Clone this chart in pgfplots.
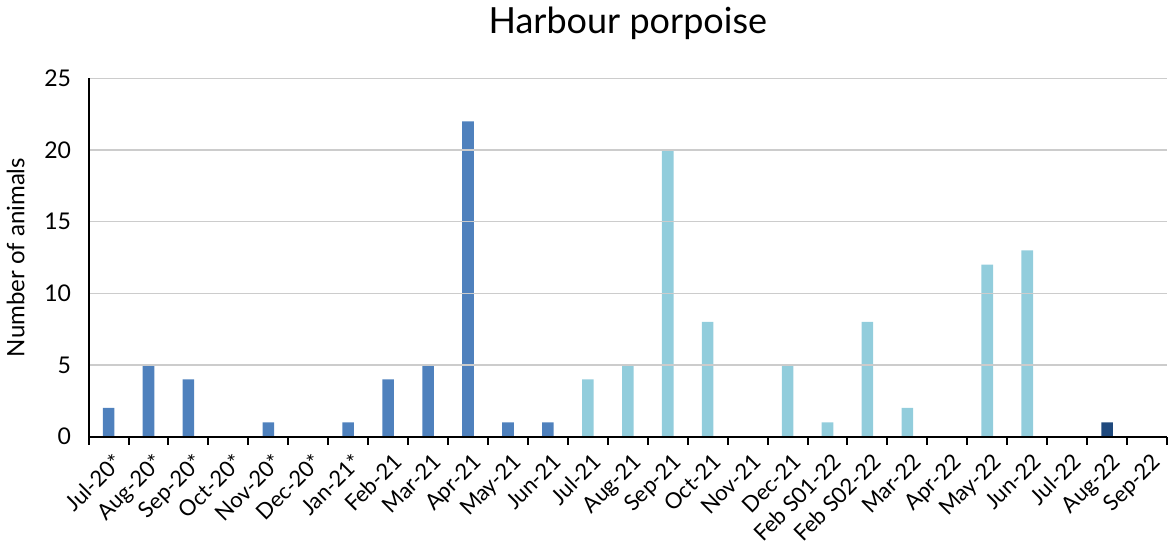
\documentclass[border=0pt]{standalone}
\usepackage{pgfplots}
\pgfplotsset{compat=1.18}
\usepackage{fontspec}
\setmainfont{Lato}
\definecolor{midblue}{HTML}{4F81BD}
\definecolor{lightblue}{HTML}{92CDDC}
\definecolor{navyblue}{HTML}{1F497D}
\begin{document}
\begin{tikzpicture}
\begin{axis}[
    width=539pt, height=179pt, scale only axis,
    xmin=-0.5, xmax=26.5, ymin=0, ymax=25,
    axis x line=bottom, axis y line=left,
    axis line style={line width=1pt, -},
    axis on top,
    ybar, bar width=0.29,
    xtick={0,...,26},
    xticklabels={Jul-20*, Aug-20*, Sep-20*, Oct-20*, Nov-20*, Dec-20*, Jan-21*,
        Feb-21, Mar-21, Apr-21, May-21, Jun-21, Jul-21, Aug-21, Sep-21, Oct-21,
        Nov-21, Dec-21, Feb S01-22, Feb S02-22, Mar-22, Apr-22, May-22, Jun-22,
        Jul-22, Aug-22, Sep-22},
    major x tick style={draw=none},
    minor xtick={-0.5,0.5,...,26.5},
    minor x tick style={black, line width=1pt},
    tick align=outside, minor tick length=4pt,
    ytick={0,5,...,25}, major y tick style={draw=none},
    ymajorgrids, grid style={black!20, line width=0.7pt},
    xticklabel style={rotate=45, anchor=north east, inner sep=1pt, yshift=-2.5pt,
        font=\fontsize{11}{12}\selectfont},
    yticklabel style={font=\fontsize{11.5}{12}\selectfont, xshift=-1pt},
    /pgf/number format/assume math mode=true,
    ylabel={Number of animals},
    ylabel shift=3pt,
    ylabel style={font=\fontsize{12}{13}\selectfont},
    title={Harbour porpoise},
    title style={font=\fontsize{18}{20}\selectfont, yshift=10pt},
]
\addplot[fill=midblue, draw=none, bar shift=0pt] coordinates {
    (0,2) (1,5) (2,4) (3,0) (4,1) (5,0) (6,1) (7,4) (8,5) (9,22) (10,1) (11,1)
};
\addplot[fill=lightblue, draw=none, bar shift=0pt] coordinates {
    (12,4) (13,5) (14,20) (15,8) (16,0) (17,5) (18,1) (19,8) (20,2) (21,0)
    (22,12) (23,13) (24,0)
};
\addplot[fill=navyblue, draw=none, bar shift=0pt] coordinates {
    (25,1) (26,0)
};
\end{axis}
\end{tikzpicture}
\end{document}
